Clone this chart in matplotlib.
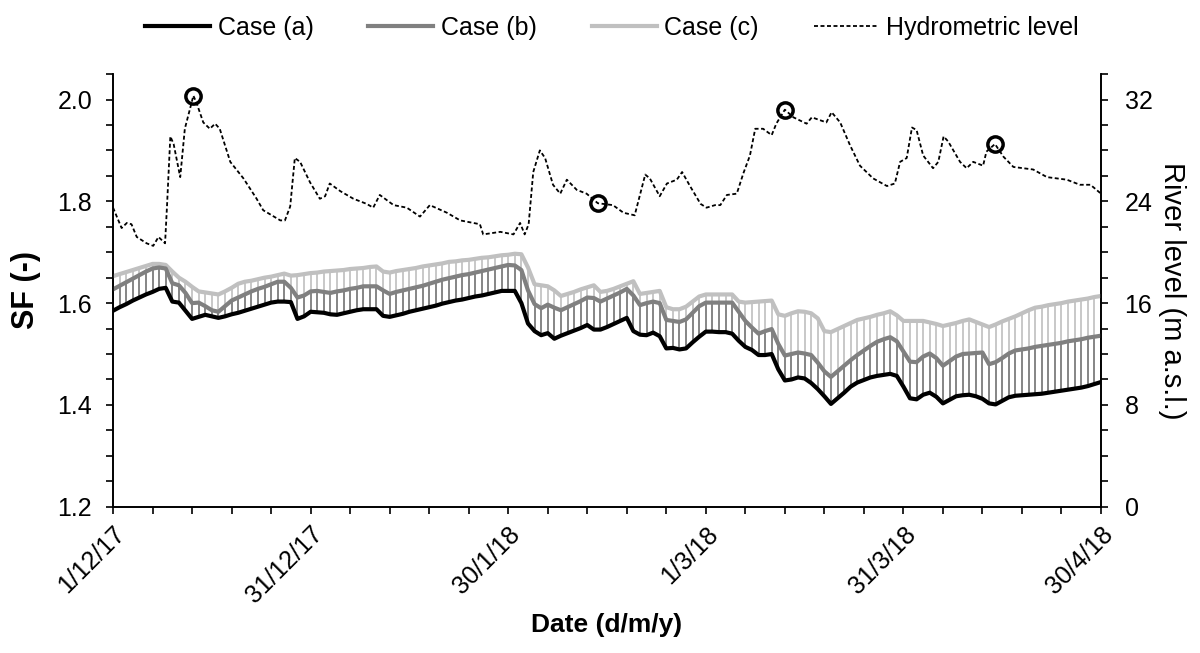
import numpy as np
import pandas as pd
import matplotlib
matplotlib.use("Agg")
import matplotlib.pyplot as plt
import matplotlib.dates as mdates
from matplotlib.ticker import MultipleLocator, FuncFormatter

plt.rcParams['font.family'] = ['Liberation Sans', 'DejaVu Sans']

start = pd.Timestamp("2017-12-01")

# daily safety factor, 1/12/17 .. 30/4/18
sf_a = [1.585, 1.592, 1.598, 1.605, 1.611, 1.617, 1.622, 1.628, 1.630, 1.603,
        1.601, 1.585, 1.569, 1.573, 1.577, 1.574, 1.571, 1.574, 1.578, 1.581,
        1.585, 1.589, 1.593, 1.597, 1.601, 1.603, 1.603, 1.602, 1.569, 1.574,
        1.583, 1.582, 1.581, 1.578, 1.577, 1.580, 1.583, 1.586, 1.588, 1.588,
        1.588, 1.575, 1.573, 1.576, 1.579, 1.583, 1.586, 1.589, 1.592, 1.595,
        1.599, 1.602, 1.605, 1.607, 1.610, 1.613, 1.615, 1.618, 1.621, 1.624,
        1.624, 1.624, 1.600, 1.560, 1.545, 1.537, 1.541, 1.530, 1.536, 1.541,
        1.546, 1.551, 1.557, 1.548, 1.548, 1.553, 1.559, 1.565, 1.571, 1.545,
        1.538, 1.537, 1.542, 1.535, 1.511, 1.512, 1.509, 1.511, 1.523, 1.534,
        1.544, 1.544, 1.543, 1.543, 1.540, 1.526, 1.514, 1.508, 1.498, 1.498,
        1.500, 1.470, 1.448, 1.450, 1.454, 1.452, 1.443, 1.431, 1.417, 1.402,
        1.413, 1.424, 1.436, 1.444, 1.449, 1.454, 1.457, 1.459, 1.461, 1.457,
        1.436, 1.413, 1.411, 1.420, 1.424, 1.416, 1.403, 1.410, 1.417, 1.419,
        1.420, 1.417, 1.412, 1.403, 1.401, 1.408, 1.415, 1.418, 1.419, 1.420,
        1.421, 1.422, 1.424, 1.426, 1.428, 1.430, 1.432, 1.434, 1.437, 1.441,
        1.445]

sf_b = [1.627, 1.634, 1.641, 1.648, 1.655, 1.662, 1.668, 1.670, 1.668, 1.639,
        1.635, 1.620, 1.600, 1.601, 1.594, 1.586, 1.583, 1.594, 1.605, 1.611,
        1.617, 1.623, 1.628, 1.632, 1.637, 1.642, 1.642, 1.630, 1.611, 1.615,
        1.623, 1.624, 1.622, 1.620, 1.623, 1.625, 1.628, 1.630, 1.633, 1.633,
        1.633, 1.625, 1.618, 1.622, 1.625, 1.628, 1.631, 1.634, 1.638, 1.642,
        1.646, 1.649, 1.652, 1.655, 1.657, 1.660, 1.663, 1.666, 1.669, 1.672,
        1.675, 1.674, 1.665, 1.625, 1.598, 1.590, 1.597, 1.591, 1.586, 1.592,
        1.598, 1.604, 1.611, 1.610, 1.603, 1.609, 1.615, 1.621, 1.628, 1.615,
        1.596, 1.600, 1.603, 1.600, 1.567, 1.565, 1.563, 1.568, 1.581, 1.594,
        1.601, 1.601, 1.601, 1.601, 1.601, 1.583, 1.565, 1.552, 1.540, 1.545,
        1.549, 1.520, 1.497, 1.500, 1.503, 1.501, 1.498, 1.483, 1.466, 1.455,
        1.466, 1.477, 1.488, 1.498, 1.507, 1.516, 1.524, 1.529, 1.533, 1.525,
        1.505, 1.485, 1.484, 1.495, 1.501, 1.492, 1.477, 1.486, 1.495, 1.500,
        1.501, 1.502, 1.503, 1.480, 1.484, 1.492, 1.501, 1.507, 1.509, 1.511,
        1.514, 1.516, 1.518, 1.520, 1.522, 1.525, 1.527, 1.529, 1.532, 1.534,
        1.536]

sf_c = [1.653, 1.657, 1.661, 1.665, 1.669, 1.673, 1.677, 1.677, 1.675, 1.662,
        1.650, 1.642, 1.632, 1.623, 1.621, 1.619, 1.617, 1.623, 1.630, 1.638,
        1.642, 1.644, 1.647, 1.650, 1.652, 1.655, 1.658, 1.654, 1.655, 1.657,
        1.659, 1.660, 1.662, 1.663, 1.664, 1.665, 1.667, 1.668, 1.669, 1.671,
        1.672, 1.662, 1.660, 1.663, 1.665, 1.667, 1.669, 1.672, 1.674, 1.676,
        1.678, 1.681, 1.682, 1.684, 1.685, 1.687, 1.689, 1.690, 1.692, 1.694,
        1.695, 1.697, 1.696, 1.670, 1.637, 1.635, 1.633, 1.625, 1.614, 1.618,
        1.622, 1.627, 1.631, 1.635, 1.622, 1.624, 1.628, 1.633, 1.638, 1.643,
        1.618, 1.620, 1.622, 1.624, 1.592, 1.588, 1.588, 1.593, 1.603, 1.613,
        1.617, 1.617, 1.617, 1.617, 1.617, 1.603, 1.601, 1.602, 1.603, 1.604,
        1.605, 1.578, 1.575, 1.580, 1.584, 1.583, 1.580, 1.570, 1.545, 1.543,
        1.549, 1.555, 1.561, 1.567, 1.570, 1.573, 1.577, 1.580, 1.584, 1.576,
        1.565, 1.565, 1.565, 1.565, 1.562, 1.559, 1.555, 1.558, 1.561, 1.565,
        1.568, 1.563, 1.558, 1.553, 1.558, 1.564, 1.569, 1.574, 1.580, 1.586,
        1.591, 1.593, 1.596, 1.598, 1.600, 1.603, 1.605, 1.607, 1.609, 1.612,
        1.614]

# river stage (days from 1/12/17, m a.s.l.)
level_day = [0, 1.3, 2.1, 2.8, 3.6, 5.1, 6.1, 6.9, 7.9, 8.2, 8.7, 9.2, 10.2, 10.9,
             11.7, 12.2, 12.7, 13.7, 14.7, 15.5, 16.2, 17.8, 19.8, 21.8, 22.8,
             25.4, 26.1, 26.9, 27.6, 28.4, 29.9, 31.4, 32.2, 32.9, 34.5, 36.5,
             38.5, 39.5, 40.5, 42.6, 44.6, 46.6, 48.1, 50.7, 52.7, 55.7, 56.2,
             58.8, 60.8, 61.8, 62.5, 63.1, 63.8, 64.8, 65.6, 66.8, 67.9, 68.9,
             70.4, 71.9, 73.6, 75.9, 77.5, 79.2, 80.0, 80.8, 81.5, 83.0, 84.1,
             85.6, 86.4, 87.6, 89.2, 90.1, 91.4, 92.2, 93.2, 94.7, 95.7, 96.7,
             97.5, 98.7, 100.0, 100.7, 102.0, 103.3, 105.3, 106.1, 108.3, 109.1,
             110.4, 111.9, 113.4, 115.4, 117.5, 118.7, 119.5, 120.5, 121.3,
             122.0, 123.0, 124.5, 125.3, 126.1, 126.8, 128.6, 129.6, 130.6,
             132.1, 132.6, 133.9, 135.2, 136.7, 139.7, 141.8, 144.8, 146.8,
             148.4, 150.0]
level = [23.5, 21.9, 22.3, 22.2, 21.2, 20.7, 20.5, 21.2, 20.7, 23.7, 29.1, 28.5,
         25.9, 29.7, 31.3, 32.3, 31.7, 30.2, 29.7, 30.1, 29.7, 27.1, 25.8, 24.2,
         23.3, 22.5, 22.5, 23.6, 27.4, 27.1, 25.5, 24.2, 24.4, 25.4, 24.8, 24.2,
         23.8, 23.5, 24.5, 23.7, 23.5, 22.8, 23.7, 23.1, 22.5, 22.2, 21.4, 21.6,
         21.4, 22.3, 21.4, 22.2, 26.3, 28.0, 27.4, 25.3, 24.6, 25.7, 24.9, 24.6,
         23.85, 23.7, 23.1, 22.9, 24.5, 26.1, 25.8, 24.4, 25.4, 25.7, 26.3, 25.2,
         23.8, 23.5, 23.7, 23.7, 24.5, 24.6, 26.2, 27.6, 29.7, 29.7, 29.2, 30.1,
         31.2, 30.6, 30.1, 30.6, 30.2, 31.0, 30.2, 28.4, 26.8, 25.8, 25.2, 25.4,
         27.1, 27.4, 29.8, 29.6, 27.6, 26.6, 27.1, 29.1, 28.7, 27.1, 26.6, 27.1,
         26.8, 27.9, 28.5, 27.5, 26.7, 26.5, 25.9, 25.7, 25.3, 25.3, 24.6]

# highlighted stages
peak_day = [12.2, 73.6, 102.0, 133.9]
peak_level = [32.3, 23.85, 31.2, 28.5]

dates = pd.date_range(start, periods=len(sf_a), freq="D")
level_dates = start + pd.to_timedelta(level_day, unit="D")
peak_dates = start + pd.to_timedelta(peak_day, unit="D")

fig = plt.figure(figsize=(12, 6.53), dpi=100)
ax = fig.add_axes([0.0942, 0.224, 0.8233, 0.6626])

# daily connectors between the three cases
ax.vlines(dates, sf_a, sf_b, color="#858585", lw=1.4, zorder=1)
ax.vlines(dates, sf_b, sf_c, color="#c8c8c8", lw=1.4, zorder=1)

ax.plot(dates, sf_c, color="#c0c0c0", lw=3.0, label="Case (c)", zorder=3)
ax.plot(dates, sf_b, color="#808080", lw=3.0, label="Case (b)", zorder=3)
ax.plot(dates, sf_a, color="black", lw=3.0, label="Case (a)", zorder=4)

ax2 = ax.twinx()
ax2.plot(level_dates, level, color="black", lw=1.3, dashes=(2.2, 1.4),
         label="Hydrometric level")
ax2.plot(peak_dates, peak_level, "o", ms=11, mfc="none", mec="black", mew=2.5)

ax.set_xlim(start, start + pd.Timedelta(days=150))
ax.set_ylim(1.2, 2.05)
ax2.set_ylim(0, 34)

ax.set_xticks(start + pd.to_timedelta(np.arange(0, 151, 30), unit="D"))
ax.set_xticks(start + pd.to_timedelta(np.arange(0, 151, 6), unit="D"), minor=True)
ax.xaxis.set_major_formatter(FuncFormatter(
    lambda v, p: (lambda d: f"{d.day}/{d.month}/{d.year % 100}")(mdates.num2date(v))))
plt.setp(ax.get_xticklabels(), rotation=45, ha="right", rotation_mode="anchor")

ax.yaxis.set_major_locator(MultipleLocator(0.2))
ax.yaxis.set_minor_locator(MultipleLocator(0.05))
ax.yaxis.set_major_formatter(FuncFormatter(lambda v, p: f"{v:.1f}"))
ax2.yaxis.set_major_locator(MultipleLocator(8))
ax2.yaxis.set_minor_locator(MultipleLocator(2))

for a in (ax, ax2):
    a.tick_params(which="both", direction="out", length=5, width=1.2, labelsize=18)
    a.spines["top"].set_visible(False)
    for s in a.spines.values():
        s.set_linewidth(1.2)
ax.tick_params(axis="y", pad=10)
ax.tick_params(axis="x", pad=6)
ax2.tick_params(axis="y", pad=12)

ax.set_xlabel("Date (d/m/y)", fontsize=19, fontweight="bold", labelpad=4)
ax.set_ylabel("SF (-)", fontsize=22, fontweight="bold", labelpad=12)
ax2.set_ylabel("River level (m a.s.l.)", fontsize=21,
               rotation=-90, labelpad=24)

h1, l1 = ax.get_legend_handles_labels()
h2, l2 = ax2.get_legend_handles_labels()
order = [2, 1, 0]
fig.legend([h1[i] for i in order] + h2, [l1[i] for i in order] + l2,
           loc="upper center", bbox_to_anchor=(0.51, 1.01), ncol=4,
           frameon=False, fontsize=18, handlelength=2.6, handletextpad=0.3,
           columnspacing=2.2)

fig.savefig("out.png", dpi=100)
